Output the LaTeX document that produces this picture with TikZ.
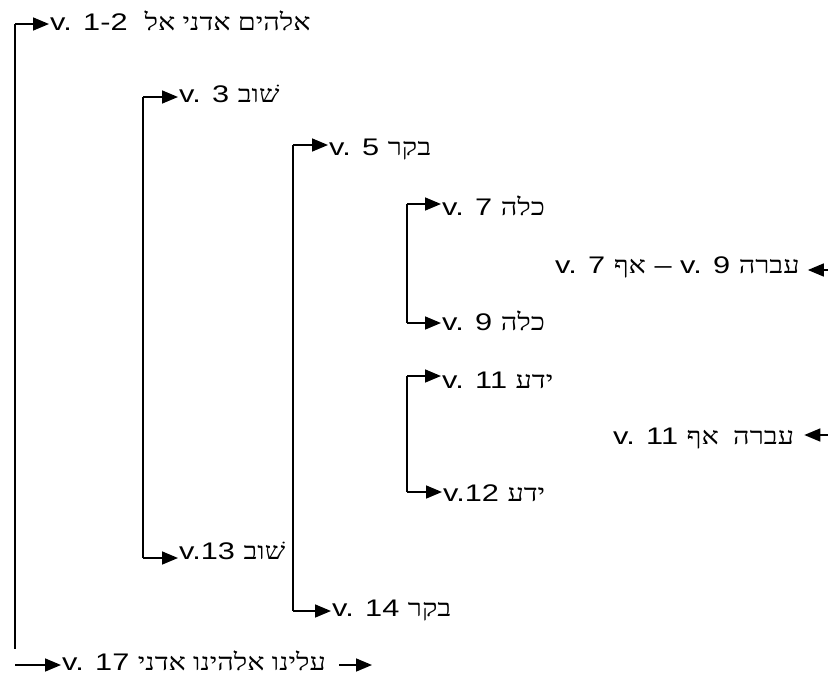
\documentclass[tikz,border=0pt]{standalone}
\usepackage{fontspec}
\setmainfont[FakeStretch=1.28]{Liberation Sans}
\newfontfamily\heb[Script=Hebrew,FakeStretch=1.2]{Liberation Serif}
\TeXXeTstate=1
\usetikzlibrary{arrows.meta}
\newcommand\hb[1]{{\heb\beginR #1\endR}}
\begin{document}
\begin{tikzpicture}[x=1pt,y=-1pt,
  conn/.style={line width=1.6pt,-{Triangle[length=16pt,width=13pt]},shorten >=1pt},
  plain/.style={line width=1.6pt},
  lbl/.style={anchor=base west,inner sep=0pt,font=\fontsize{24}{28}\selectfont}]
\useasboundingbox (0,0) rectangle (828,678);
% labels
\node[lbl] (t1)  at (50,30)   {v. 1-2\ \ \hb{אלהים אדני אל}};
\node[lbl] (t3)  at (179,102) {v. 3 \hb{שׁוב}};
\node[lbl] (t5)  at (329,155) {v. 5 \hb{בקר}};
\node[lbl] (t7)  at (442,215) {v. 7 \hb{כלה}};
\node[lbl] (n1)  at (555,273) {v. 7 \hb{אף} – v. 9 \hb{עברה}};
\node[lbl] (t9)  at (442,330) {v. 9 \hb{כלה}};
\node[lbl] (t11) at (442,388) {v. 11 \hb{ידע}};
\node[lbl] (n2)  at (613,444) {v. 11 \hb{עברה\ \ אף}};
\node[lbl] (t12) at (443,501) {v.12 \hb{ידע}};
\node[lbl] (t13) at (179,559) {v.13 \hb{שׁוב}};
\node[lbl] (t14) at (332,616) {v. 14 \hb{בקר}};
\node[lbl] (t17) at (62,670)  {v. 17 \hb{עלינו אלהינו אדני}};
% corners
\coordinate (a1) at (15,24);   \coordinate (a2) at (15,649);  \coordinate (a3) at (15,665);
\coordinate (a4) at (373,665);
\coordinate (b1) at (143,97);  \coordinate (b2) at (143,558);
\coordinate (c1) at (293,145); \coordinate (c2) at (293,611);
\coordinate (d1) at (407,204); \coordinate (d2) at (407,323);
\coordinate (e1) at (407,376); \coordinate (e2) at (407,492);
\coordinate (r1) at (828,270); \coordinate (r2) at (828,435);
% connectors
\draw[plain] (a1) -- (a2);
\draw[conn] (a1) -- (t1.west |- a1);
\draw[conn] (a3) -- (t17.west |- a3);
\draw[conn,shorten <=13pt] (t17.east |- a4) -- (a4);
\draw[plain] (b1) -- (b2);
\draw[conn] (b1) -- (t3.west |- b1);
\draw[conn] (b2) -- (t13.west |- b2);
\draw[plain] (c1) -- (c2);
\draw[conn] (c1) -- (t5.west |- c1);
\draw[conn] (c2) -- (t14.west |- c2);
\draw[plain] (d1) -- (d2);
\draw[conn] (d1) -- (t7.west |- d1);
\draw[conn] (d2) -- (t9.west |- d2);
\draw[plain] (e1) -- (e2);
\draw[conn] (e1) -- (t11.west |- e1);
\draw[conn] (e2) -- (t12.west |- e2);
\draw[conn,shorten >=8pt] (r1) -- (n1.east |- r1);
\draw[conn,shorten >=10pt] (r2) -- (n2.east |- r2);
\end{tikzpicture}
\end{document}
